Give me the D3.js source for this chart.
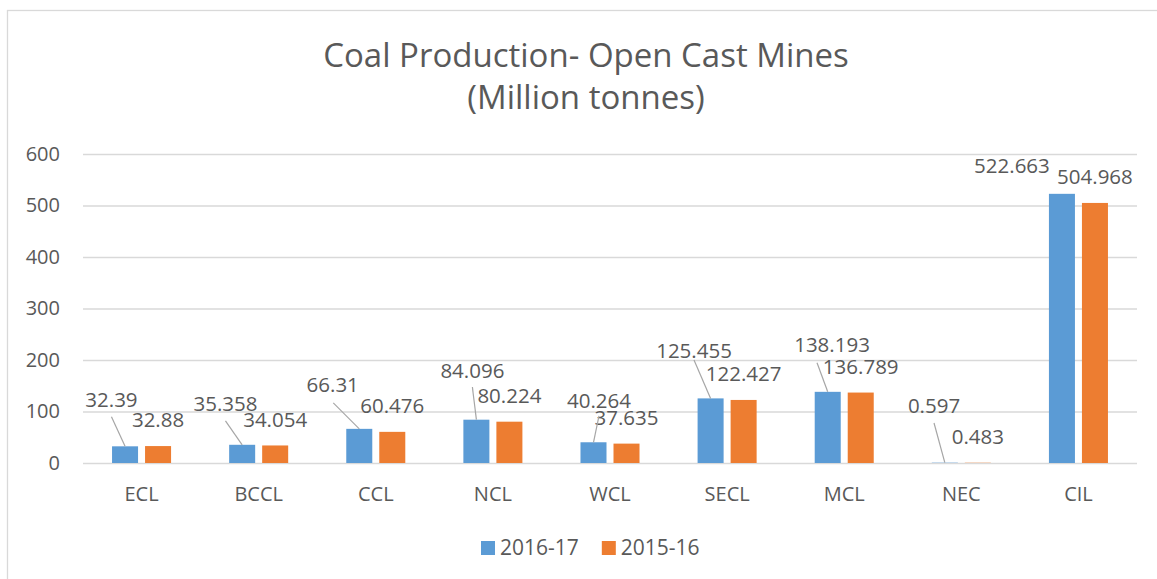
<!DOCTYPE html>
<html>
<head>
<meta charset="utf-8">
<script src="https://cdn.jsdelivr.net/npm/d3@7"></script>
<style>
  body { margin: 0; background: #fff; }
  text { font-family: "Open Sans", sans-serif; fill: #595959; }
</style>
</head>
<body>
<div id="chart"></div>
<script>
// data
const categories = ["ECL", "BCCL", "CCL", "NCL", "WCL", "SECL", "MCL", "NEC", "CIL"];
const seriesNames = ["2016-17", "2015-16"];
const values2016 = [32.39, 35.358, 66.31, 84.096, 40.264, 125.455, 138.193, 0.597, 522.663];
const values2015 = [32.88, 34.054, 60.476, 80.224, 37.635, 122.427, 136.789, 0.483, 504.968];
const yTicks = [0, 100, 200, 300, 400, 500, 600];
const colors = ["#5B9BD5", "#ED7D31"];

// where the 2016-17 labels were dragged to (px from bar top centre), and their leader lines
const blueLabelDx = [-13.6, -16.7, -26.6, -4, 5.5, -16.6, 4.3, -10.8, -50];
const blueLabelDy = [-39.6, -34, -37, -41.7, -34.3, -40.4, -40, -49.7, -20.8];
const leaderDx = [0, 0, 0.6, 0, 0, 0, -15, 0, null];
const leaderDy = [10, 10, 11, 9, 8, 2, 11, 10, null];

const W = 1157, H = 579;
const plotLeft = 83, plotRight = 1137, plotTop = 154, plotBottom = 463;

const svg = d3.select("#chart").append("svg")
    .attr("width", W)
    .attr("height", H);

// chart frame
svg.append("rect")
    .attr("x", 7.5).attr("y", 10.5)
    .attr("width", 1170).attr("height", 600)
    .attr("fill", "none")
    .attr("stroke", "#d9d9d9")
    .attr("stroke-width", 1.3);

// title
const title = svg.append("text")
    .attr("text-anchor", "middle")
    .style("font-size", "33px");
title.append("tspan").attr("x", 586).attr("y", 67).text("Coal Production- Open Cast Mines");
title.append("tspan").attr("x", 586).attr("y", 109).text("(Million tonnes)");

const x0 = d3.scaleBand()
    .domain(categories)
    .range([plotLeft, plotRight])
    .paddingInner(0.496)
    .paddingOuter(0.248);

const x1 = d3.scaleBand()
    .domain(seriesNames)
    .range([0, x0.bandwidth()])
    .paddingInner(0.212);

const y = d3.scaleLinear()
    .domain([0, 600])
    .range([plotBottom, plotTop]);

// y axis + gridlines
const yAxis = svg.append("g")
    .attr("transform", "translate(" + plotLeft + ",0)")
    .call(d3.axisLeft(y).tickValues(yTicks).tickSizeInner(-(plotRight - plotLeft)).tickSizeOuter(0).tickPadding(23));
yAxis.select(".domain").remove();
yAxis.selectAll("line").attr("stroke", "#d9d9d9").attr("stroke-width", 1.3);
yAxis.selectAll("text").style("font-size", "20px").style("font-family", "Open Sans").attr("fill", "#595959");

// x axis labels
const xAxis = svg.append("g")
    .attr("transform", "translate(0," + plotBottom + ")")
    .call(d3.axisBottom(x0).tickSize(0).tickPadding(24));
xAxis.select(".domain").remove();
xAxis.selectAll("text").style("font-size", "20px").style("font-family", "Open Sans").attr("fill", "#595959");

const rows = categories.map((c, i) => ({
    cat: c,
    i: i,
    vals: [
        {s: seriesNames[0], v: values2016[i], k: 0},
        {s: seriesNames[1], v: values2015[i], k: 1}
    ]
}));

const groups = svg.selectAll()
    .data(rows)
    .enter()
    .append("g")
    .attr("transform", d => "translate(" + x0(d.cat) + ",0)");

groups.selectAll("rect")
    .data(d => d.vals)
    .enter()
    .append("rect")
    .attr("x", d => x1(d.s))
    .attr("y", d => y(d.v))
    .attr("width", x1.bandwidth())
    .attr("height", d => y(0) - y(d.v))
    .attr("fill", d => colors[d.k]);

// leader lines for the moved labels
rows.forEach(d => {
    if (leaderDx[d.i] === null) return;
    const bx = x0(d.cat) + x1(seriesNames[0]) + x1.bandwidth() / 2;
    const by = y(values2016[d.i]);
    const lx = bx + blueLabelDx[d.i];
    const ly = by + blueLabelDy[d.i];
    svg.append("line")
        .attr("x1", lx + leaderDx[d.i])
        .attr("y1", ly + leaderDy[d.i])
        .attr("x2", bx)
        .attr("y2", by)
        .attr("stroke", "#a6a6a6")
        .attr("stroke-width", 1.2);
});

// data labels
groups.selectAll("text.lbl")
    .data(d => d.vals.map(v => Object.assign({i: d.i}, v)))
    .enter()
    .append("text")
    .attr("class", "lbl")
    .attr("text-anchor", "middle")
    .style("font-size", "20.5px")
    .attr("x", d => x1(d.s) + x1.bandwidth() / 2 + (d.k === 0 ? blueLabelDx[d.i] : 0))
    .attr("y", d => y(d.v) + (d.k === 0 ? blueLabelDy[d.i] : -18.7))
    .text(d => String(d.v));

// legend
const legend = svg.append("g");
let lx = 481;
seriesNames.forEach((s, k) => {
    legend.append("rect")
        .attr("x", lx).attr("y", 541)
        .attr("width", 14).attr("height", 14)
        .attr("fill", colors[k]);
    const t = legend.append("text")
        .attr("x", lx + 19).attr("y", 555)
        .style("font-size", "21px")
        .text(s);
    lx += 19 + t.node().getComputedTextLength() + 23;
});
</script>
</body>
</html>
